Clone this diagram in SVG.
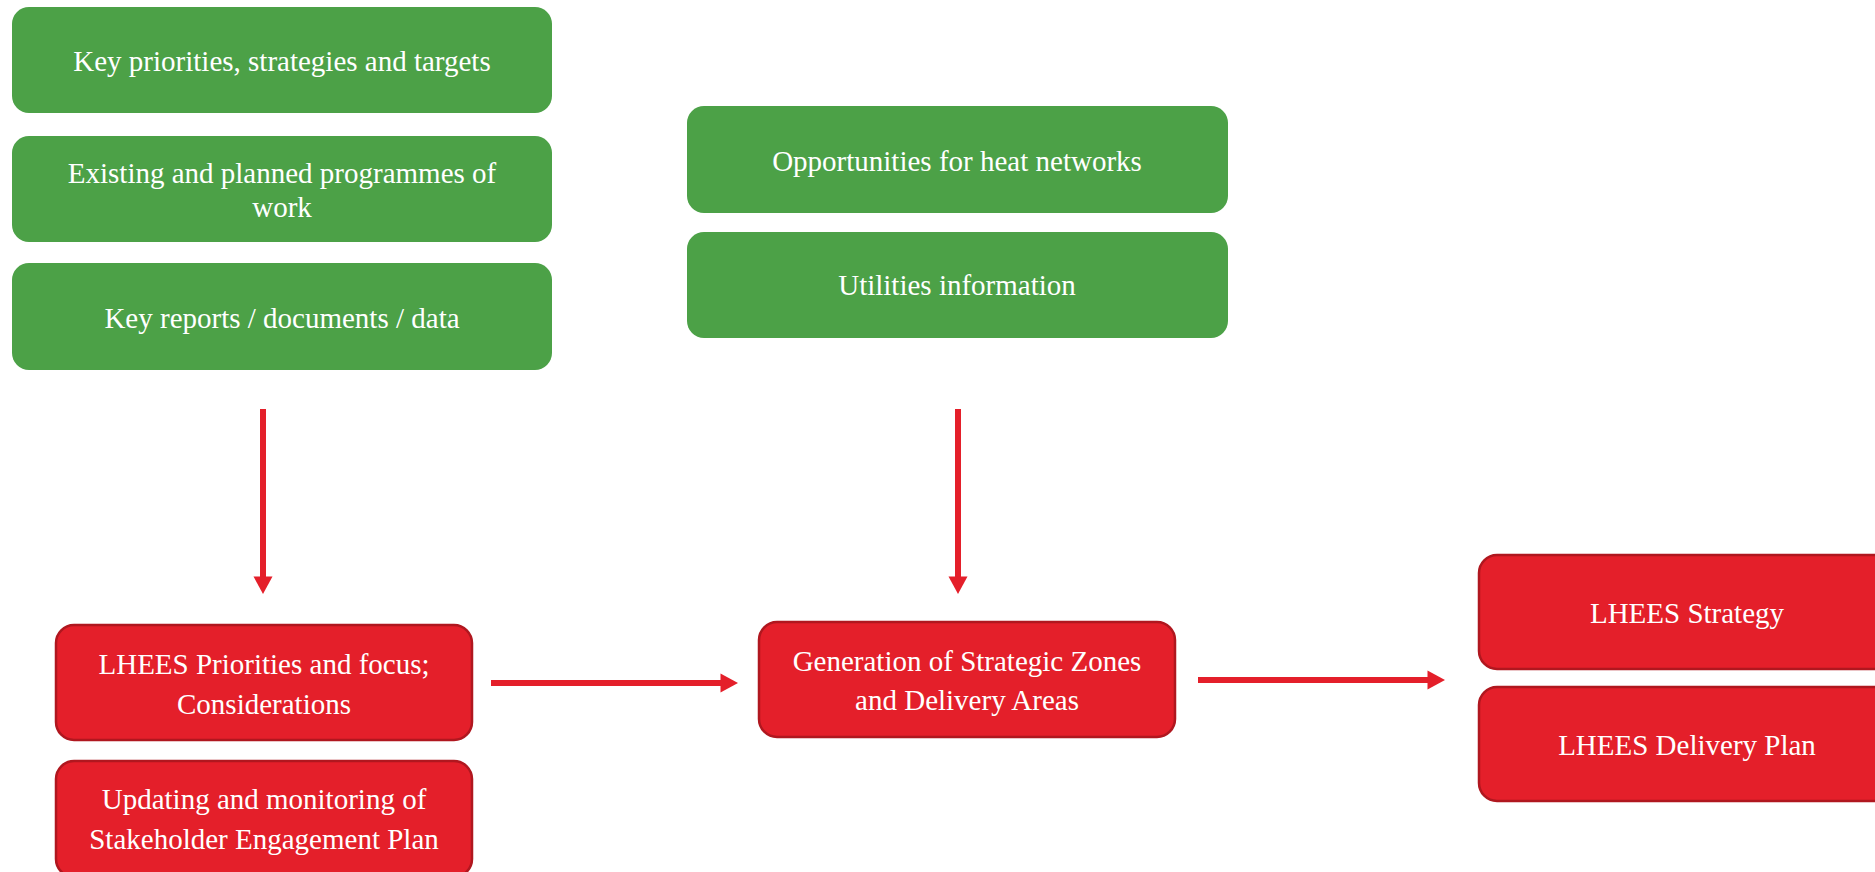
<svg xmlns="http://www.w3.org/2000/svg" width="1875" height="872" viewBox="0 0 1875 872">
<defs>
<style>
.g{fill:#4CA147;}
.r{fill:#E41F2A;stroke:#B0171F;stroke-width:2.5;}
.t{font-family:"Liberation Serif","Times New Roman",serif;font-size:29px;fill:#FFFFFF;text-anchor:middle;}
.c{stroke:#E41F2A;stroke-width:6;fill:none;}
</style>
<marker id="ah" markerUnits="userSpaceOnUse" markerWidth="18" markerHeight="19" viewBox="0 0 18 19" refX="0.5" refY="9.5" orient="auto" overflow="visible">
<path d="M0,0 L17.5,9.5 L0,19 Z" fill="#E41F2A"/>
</marker>
</defs>
<rect width="1875" height="872" fill="#FFFFFF"/>
<g id="connectors">
<line class="c" x1="263" y1="409" x2="263" y2="577" marker-end="url(#ah)"/>
<line class="c" x1="958" y1="409" x2="958" y2="577" marker-end="url(#ah)"/>
<line class="c" x1="491" y1="683" x2="721" y2="683" marker-end="url(#ah)"/>
<line class="c" x1="1198" y1="680" x2="1428" y2="680" marker-end="url(#ah)"/>
</g>
<g id="n1"><rect class="g" x="12" y="7" width="540" height="106" rx="17"/><text class="t" x="282" y="71">Key priorities, strategies and targets</text></g>
<g id="n2"><rect class="g" x="12" y="136" width="540" height="106" rx="17"/><text class="t" x="282" y="183">Existing and planned programmes of</text><text class="t" x="282" y="217">work</text></g>
<g id="n3"><rect class="g" x="12" y="263" width="540" height="107" rx="17"/><text class="t" x="282" y="328">Key reports / documents / data</text></g>
<g id="n4"><rect class="g" x="687" y="106" width="541" height="107" rx="17"/><text class="t" x="957" y="171">Opportunities for heat networks</text></g>
<g id="n5"><rect class="g" x="687" y="232" width="541" height="106" rx="17"/><text class="t" x="957" y="295">Utilities information</text></g>
<g id="n6"><rect class="r" x="56" y="625" width="416" height="115" rx="18"/><text class="t" x="264" y="674">LHEES Priorities and focus;</text><text class="t" x="264" y="714">Considerations</text></g>
<g id="n7"><rect class="r" x="56" y="761" width="416" height="116" rx="18"/><text class="t" x="264" y="809">Updating and monitoring of</text><text class="t" x="264" y="849">Stakeholder Engagement Plan</text></g>
<g id="n8"><rect class="r" x="759" y="622" width="416" height="115" rx="18"/><text class="t" x="967" y="671">Generation of Strategic Zones</text><text class="t" x="967" y="710">and Delivery Areas</text></g>
<g id="n9"><rect class="r" x="1479" y="555" width="416" height="114" rx="18"/><text class="t" x="1687" y="623">LHEES Strategy</text></g>
<g id="n10"><rect class="r" x="1479" y="687" width="416" height="114" rx="18"/><text class="t" x="1687" y="755">LHEES Delivery Plan</text></g>
</svg>
